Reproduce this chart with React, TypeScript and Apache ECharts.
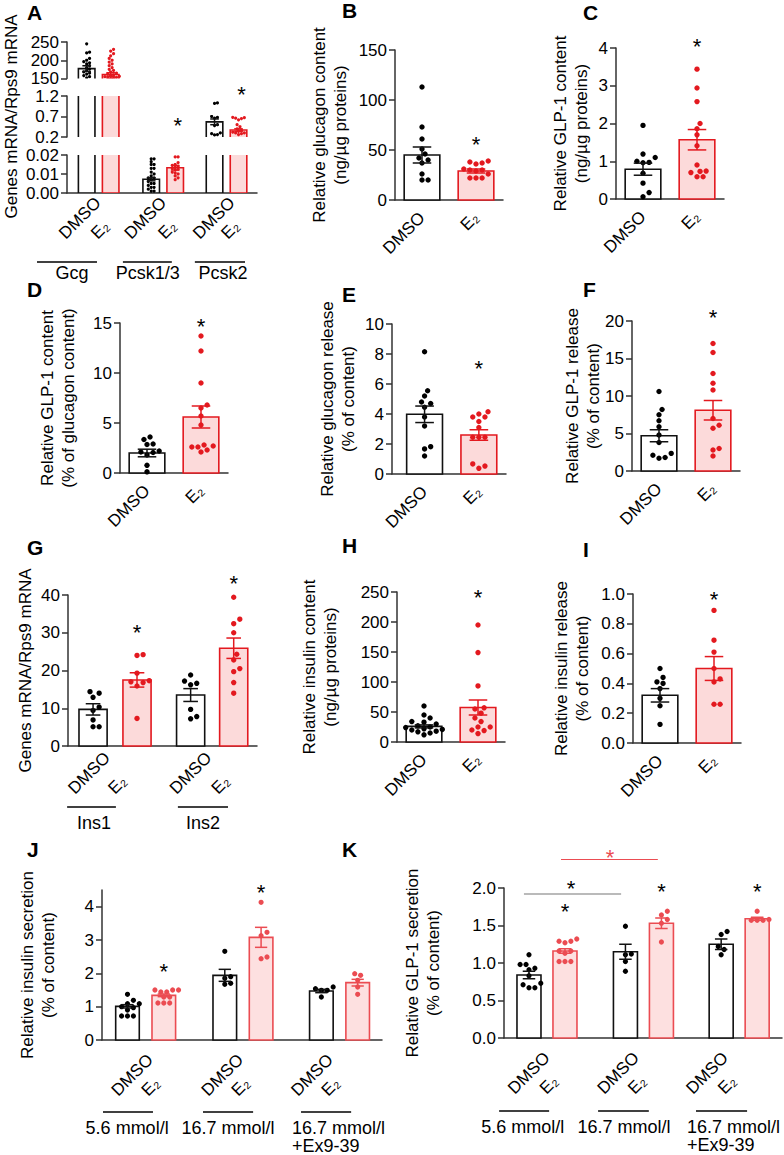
import React, { useEffect, useRef } from "react";
import * as echarts from "echarts";

const FONT = "'Liberation Sans', Arial, Helvetica, sans-serif";
const INK = "#111111";
const AXIS = "#333333";
const RED = "#e3191f";
const PINK = "#fcdada";
const CORAL = "#eb4c52";
const BLUSH = "#fde0e0";

const treatments = ["DMSO", "E₂"];

// ---------- Panel A ----------
const aGenes = ["Gcg", "Pcsk1/3", "Pcsk2"];
const aMeans = [177, 161, 0.0072, 0.0133, 0.57, 0.37];
const aSem = [8, 5, 0.0008, 0.0012, 0.07, 0.03];
const aGcgDmso = [245, 222, 220, 205, 200, 196, 193, 190, 185, 180, 176, 172, 168, 165, 162, 158, 155, 152];
const aGcgE2 = [230, 225, 218, 212, 205, 200, 195, 190, 185, 180, 175, 172, 168, 165, 162, 160, 158, 156, 155, 153, 152, 151, 150];
const aPcsk13Dmso = [0.018, 0.018, 0.0165, 0.015, 0.015, 0.013, 0.013, 0.011, 0.01, 0.009, 0.008, 0.008, 0.007, 0.006, 0.005, 0.005, 0.004, 0.003, 0.003, 0.002, 0.001, 0.001];
const aPcsk13E2 = [0.019, 0.019, 0.016, 0.015, 0.0145, 0.014, 0.0135, 0.013, 0.0125, 0.012, 0.011, 0.0105, 0.01, 0.009, 0.008, 0.007];
const aPcsk2Dmso = [1.03, 1.02, 0.7, 0.68, 0.66, 0.5, 0.48, 0.3, 0.28, 0.26, 0.25];
const aPcsk2E2 = [0.68, 0.67, 0.66, 0.65, 0.62, 0.5, 0.45, 0.4, 0.36, 0.34, 0.32, 0.3, 0.3, 0.28, 0.26];
const aStars = [[3.8, 0.6], [6.45, 1.37]];

// ---------- Panel B ----------
const bMeans = [45, 29];
const bSem = [8, 2];
const bDmso = [113, 73, 61, 51, 46, 42, 40, 37, 26, 20, 20];
const bE2 = [39, 38, 37, 36, 31, 30, 30, 29, 26, 22, 22, 22];
const bStar = 61;

// ---------- Panel C ----------
const cMeans = [0.79, 1.57];
const cSem = [0.16, 0.27];
const cDmso = [1.95, 1.19, 1.1, 1.0, 0.97, 0.96, 0.68, 0.42, 0.17, 0.06];
const cE2 = [3.44, 2.94, 2.58, 2.0, 1.86, 1.7, 1.41, 0.9, 0.74, 0.73, 0.7, 0.59, 0.59];
const cStar = 4.16;

// ---------- Panel D ----------
const dMeans = [2.0, 5.6];
const dSem = [0.38, 1.1];
const dDmso = [3.6, 3.35, 2.9, 2.85, 2.2, 2.1, 2.05, 1.8, 0.77, 0.12];
const dE2 = [13.7, 12.2, 9.0, 6.8, 6.5, 5.7, 4.8, 2.8, 2.7, 2.6, 2.6, 2.3, 2.1];
const dStar = 15.2;

// ---------- Panel E ----------
const eMeans = [3.98, 2.6];
const eSem = [0.55, 0.35];
const eDmso = [8.15, 5.55, 5.2, 4.8, 4.7, 4.45, 3.8, 3.2, 1.82, 1.67, 1.2];
const eE2 = [4.15, 4.0, 3.8, 3.8, 3.5, 3.1, 2.45, 2.45, 2.45, 0.67, 0.53, 0.38];
const eStar = 7.4;

// ---------- Panel F ----------
const fMeans = [4.7, 8.1];
const fSem = [0.8, 1.3];
const fDmso = [10.6, 8.2, 7.5, 6.7, 5.9, 4.8, 3.8, 2.35, 2.1, 1.8, 1.7];
const fE2 = [17.0, 15.8, 13.0, 11.7, 10.8, 7.0, 6.1, 5.7, 3.0, 2.8, 2.0];
const fStar = 21.2;

// ---------- Panel G ----------
const gGenes = ["Ins1", "Ins2"];
const gMeans = [9.7, 17.5, 13.5, 25.9];
const gSem = [1.5, 1.9, 1.7, 2.7];
const gIns1Dmso = [14.4, 14.0, 12.9, 10.3, 9.4, 6.9, 5.1, 5.1];
const gIns1E2 = [24.2, 24.0, 19.3, 17.3, 17.0, 16.8, 15.9, 7.3];
const gIns2Dmso = [18.8, 17.2, 16.6, 16.2, 9.7, 7.8, 7.2];
const gIns2E2 = [39.4, 33.6, 32.4, 30.0, 24.3, 22.8, 20.5, 19.7, 16.8, 14.0];
const gStars = [[1, 31.5], [3.2, 44.4]];

// ---------- Panel H ----------
const hMeans = [26, 57.5];
const hSem = [2.5, 12.5];
const hDmso = [60, 45, 40, 34, 33, 30, 27, 25, 24, 22, 21, 20, 18, 17, 15, 12];
const hE2 = [195, 149, 93.5, 57, 55, 48, 40, 34, 25, 25, 20, 19, 14];
const hStar = 249;

// ---------- Panel I ----------
const iMeans = [0.32, 0.5];
const iSem = [0.045, 0.08];
const iDmso = [0.5, 0.44, 0.41, 0.4, 0.365, 0.3, 0.25, 0.125];
const iE2 = [0.89, 0.69, 0.61, 0.5, 0.43, 0.41, 0.26, 0.26];
const iStar = 1.0;

// ---------- Panels J & K ----------
const glucose = ["5.6 mmol/l", "16.7 mmol/l", "16.7 mmol/l\n+Ex9-39"];
const jMeans = [1.01, 1.34, 1.94, 3.08, 1.47, 1.72];
const jSem = [0.05, 0.04, 0.18, 0.3, 0.05, 0.1];
const j56Dmso = [1.37, 1.19, 1.09, 1.09, 1.0, 0.97, 0.9, 0.72, 0.72, 0.72];
const j56E2 = [1.5, 1.5, 1.5, 1.44, 1.44, 1.29, 1.29, 1.11, 1.11, 1.11];
const j167Dmso = [2.66, 1.9, 1.85, 1.7, 1.67];
const j167E2 = [4.13, 3.23, 3.13, 2.49, 2.44];
const jExDmso = [1.59, 1.54, 1.49, 1.49, 1.29];
const jExE2 = [1.99, 1.94, 1.79, 1.59, 1.37];
const jStars = [[1, 2.2], [3.68, 4.58]];

const kMeans = [0.84, 1.16, 1.15, 1.53, 1.25, 1.59];
const kSem = [0.05, 0.03, 0.1, 0.07, 0.07, 0.02];
const k56Dmso = [1.11, 0.98, 0.98, 0.93, 0.91, 0.83, 0.73, 0.71, 0.67, 0.67];
const k56E2 = [1.32, 1.29, 1.29, 1.27, 1.16, 1.16, 1.13, 1.02, 1.02, 1.02];
const k167Dmso = [1.49, 1.12, 1.11, 1.02, 0.89];
const k167E2 = [1.69, 1.64, 1.58, 1.53, 1.28];
const kExDmso = [1.42, 1.38, 1.22, 1.18, 1.11];
const kExE2 = [1.69, 1.57, 1.57, 1.58, 1.57];
const kStars = [[1, 1.755], [3.68, 2.02], [6.34, 2.02], [1.17, 2.06], [2.25, 2.47, 1]];
const kBrackets = [[-0.14, 2.56, 1.92, 0], [0.89, 3.58, 2.38, 1]];

// ---------- layout ----------
type GridCfg = {
  left: number; top: number; width: number; height: number;
  min: number; max: number; ticks: number[]; dec: number; bottom: boolean;
  name?: string; nameGap?: number;
};
type GroupCfg = { lines: number[][]; lx: number[]; texts: string[]; aligns: string[]; lineDy: number; labelDy: number };
type PanelCfg = {
  letter: string; lx: number; ly: number;
  grids: GridCfg[];
  xMin: number; xMax: number; barX: number[]; barW: number;
  means: number[]; sems: number[]; points: number[][];
  red: string; pink: string; dotR: number; dotGap: number;
  labelPos: number[]; labelText: string[]; labelAlign: string; labelMargin: number; customLabels?: boolean;
  stars: number[][]; starGrid: number; clip: boolean;
  groups?: GroupCfg; brackets?: number[][];
};

function twoBar(o: any): PanelCfg {
  return {
    letter: o.letter, lx: o.lx, ly: o.ly,
    grids: [{ left: o.left, top: o.top, width: o.width, height: o.height, min: 0, max: o.max, ticks: o.ticks, dec: o.dec || 0, bottom: true, name: o.name, nameGap: o.nameGap }],
    xMin: o.xMin ?? -0.5, xMax: 1.5, barX: [0, 1], barW: 0.66,
    means: o.means, sems: o.sems, points: [o.dmso, o.e2],
    red: RED, pink: PINK, dotR: 2.7, dotGap: 6.1,
    labelPos: [0, 1], labelText: treatments, labelAlign: "right", labelMargin: 15,
    stars: [[1, o.star]], starGrid: 0, clip: false,
  };
}

const panels: PanelCfg[] = [
  {
    letter: "A", lx: 27, ly: 5,
    grids: [
      { left: 67, top: 42, width: 190, height: 36.5, min: 150, max: 250, ticks: [150, 200, 250], dec: 0, bottom: false },
      { left: 67, top: 96, width: 190, height: 41, min: 0.2, max: 1.2, ticks: [0.2, 0.7, 1.2], dec: 1, bottom: false, name: "Genes mRNA/Rps9 mRNA", nameGap: 45.5 },
      { left: 67, top: 155, width: 190, height: 38, min: 0, max: 0.02, ticks: [0, 0.01, 0.02], dec: 2, bottom: true },
    ],
    xMin: -0.82, xMax: 7.1, barX: [0, 1, 2.69, 3.69, 5.33, 6.33], barW: 0.69,
    means: aMeans, sems: aSem, points: [aGcgDmso, aGcgE2, aPcsk13Dmso, aPcsk13E2, aPcsk2Dmso, aPcsk2E2],
    red: RED, pink: PINK, dotR: 1.6, dotGap: 2.9,
    labelPos: [-1.03, 0.3, 1.7, 3.1, 4.55, 5.73], labelText: [...treatments, ...treatments, ...treatments], labelAlign: "left", labelMargin: 43, customLabels: true,
    stars: aStars, starGrid: 1, clip: true,
    groups: { lines: [[-2.07, 0.43], [1.51, 3.55], [4.51, 6.6]], lx: [-0.61, 2.55, 5.68], texts: aGenes, aligns: ["center", "center", "center"], lineDy: 69, labelDy: 80 },
  },
  twoBar({ letter: "B", lx: 342, ly: 3, left: 395, top: 50, width: 108, height: 150, max: 150, ticks: [0, 50, 100, 150], name: "Relative glucagon content\n(ng/µg proteins)", nameGap: 44.5, means: bMeans, sems: bSem, dmso: bDmso, e2: bE2, star: bStar }),
  twoBar({ letter: "C", lx: 583, ly: 5, left: 616, top: 48, width: 108, height: 151, max: 4, ticks: [0, 1, 2, 3, 4], name: "Relative GLP-1 content\n(ng/µg proteins)", nameGap: 24.5, means: cMeans, sems: cSem, dmso: cDmso, e2: cE2, star: cStar }),
  twoBar({ letter: "D", lx: 27, ly: 282, left: 120, top: 323, width: 108, height: 150, max: 15, ticks: [0, 5, 10, 15], name: "Relative GLP-1 content\n(% of glucagon content)", nameGap: 41, means: dMeans, sems: dSem, dmso: dDmso, e2: dE2, star: dStar }),
  twoBar({ letter: "E", lx: 342, ly: 287, left: 392, top: 324, width: 114, height: 150, max: 10, ticks: [0, 2, 4, 6, 8, 10], name: "Relative glucagon release\n(% of content)", nameGap: 33, xMin: -0.6, means: eMeans, sems: eSem, dmso: eDmso, e2: eE2, star: eStar }),
  twoBar({ letter: "F", lx: 583, ly: 282, left: 632, top: 321, width: 108, height: 150, max: 20, ticks: [0, 5, 10, 15, 20], name: "Relative GLP-1 release\n(% of content)", nameGap: 28, means: fMeans, sems: fSem, dmso: fDmso, e2: fE2, star: fStar }),
  {
    letter: "G", lx: 27, ly: 540,
    grids: [{ left: 68, top: 595, width: 189, height: 151, min: 0, max: 40, ticks: [0, 10, 20, 30, 40], dec: 0, bottom: true, name: "Genes mRNA/Rps9 mRNA", nameGap: 32.5 }],
    xMin: -0.57, xMax: 3.73, barX: [0, 1, 2.22, 3.2], barW: 0.64,
    means: gMeans, sems: gSem, points: [gIns1Dmso, gIns1E2, gIns2Dmso, gIns2E2],
    red: RED, pink: PINK, dotR: 2.7, dotGap: 6.1,
    labelPos: [-0.5, 0.41, 1.81, 2.76], labelText: [...treatments, ...treatments], labelAlign: "left", labelMargin: 45,
    stars: gStars, starGrid: 0, clip: false,
    groups: { lines: [[-0.59, 0.52], [1.93, 3.07]], lx: [0.02, 2.5], texts: gGenes, aligns: ["center", "center"], lineDy: 61, labelDy: 77 },
  },
  twoBar({ letter: "H", lx: 342, ly: 538, left: 397, top: 592, width: 108, height: 150, max: 250, ticks: [0, 50, 100, 150, 200, 250], name: "Relative insulin content\n(ng/µg proteins)", nameGap: 56.5, means: hMeans, sems: hSem, dmso: hDmso, e2: hE2, star: hStar }),
  twoBar({ letter: "I", lx: 583, ly: 542, left: 633, top: 594, width: 108, height: 149, max: 1, ticks: [0, 0.2, 0.4, 0.6, 0.8, 1.0], dec: 1, name: "Relative insulin release\n(% of content)", nameGap: 40.5, means: iMeans, sems: iSem, dmso: iDmso, e2: iE2, star: iStar }),
  {
    letter: "J", lx: 27, ly: 842,
    grids: [{ left: 102, top: 890, width: 280, height: 150, min: 0, max: 4.5, ticks: [0, 1, 2, 3, 4], dec: 0, bottom: true, name: "Relative insulin secretion\n(% of content)", nameGap: 43 }],
    xMin: -0.702, xMax: 7.01, barX: [0, 1, 2.68, 3.68, 5.34, 6.34], barW: 0.65,
    means: jMeans, sems: jSem, points: [j56Dmso, j56E2, j167Dmso, j167E2, jExDmso, jExE2],
    red: CORAL, pink: BLUSH, dotR: 2.6, dotGap: 5.9,
    labelPos: [-0.364, 0.463, 2.116, 2.942, 4.59, 5.42], labelText: [...treatments, ...treatments, ...treatments], labelAlign: "left", labelMargin: 53,
    stars: jStars, starGrid: 0, clip: false,
    groups: { lines: [[-0.675, 0.702], [2.08, 3.46], [4.78, 6.16]], lx: [-0.01, 2.77, 4.53], texts: glucose, aligns: ["center", "center", "left"], lineDy: 72, labelDy: 88 },
  },
  {
    letter: "K", lx: 342, ly: 842,
    grids: [{ left: 504, top: 888, width: 278, height: 150, min: 0, max: 2, ticks: [0, 0.5, 1, 1.5, 2], dec: 1, bottom: true, name: "Relative GLP-1 secretion\n(% of content)", nameGap: 60 }],
    xMin: -0.694, xMax: 7.03, barX: [0, 1, 2.68, 3.68, 5.34, 6.34], barW: 0.667,
    means: kMeans, sems: kSem, points: [k56Dmso, k56E2, k167Dmso, k167E2, kExDmso, kExE2],
    red: CORAL, pink: BLUSH, dotR: 2.6, dotGap: 5.9,
    labelPos: [-0.5, 0.378, 1.98, 2.83, 4.45, 5.33], labelText: [...treatments, ...treatments, ...treatments], labelAlign: "left", labelMargin: 53,
    stars: kStars, starGrid: 0, clip: false,
    groups: { lines: [[-0.83, 0.56], [1.92, 3.33], [4.64, 6.06]], lx: [-0.17, 2.64, 4.39], texts: glucose, aligns: ["center", "center", "left"], lineDy: 73, labelDy: 89 },
    brackets: kBrackets,
  },
];

// ---------- helpers ----------
function swarm(ys: number[], d: number): number[] {
  const order = ys.map((_, i) => i).sort((a, b) => ys[b] - ys[a] || a - b);
  const placed: number[][] = [];
  const xs = new Array(ys.length).fill(0);
  for (const i of order) {
    const y = ys[i];
    for (let k = 0; k < 80; k++) {
      const step = Math.ceil(k / 2) * d * 0.5 * (k % 2 === 1 ? 1 : -1);
      let ok = true;
      for (const q of placed) {
        if ((q[0] - step) ** 2 + (q[1] - y) ** 2 < d * d * 0.92) { ok = false; break; }
      }
      if (ok) { xs[i] = step; placed.push([step, y]); break; }
    }
  }
  return xs;
}

function buildOption() {
  const option: any = {
    animation: false,
    backgroundColor: "#ffffff",
    textStyle: { fontFamily: FONT },
    grid: [], xAxis: [], yAxis: [], series: [], graphic: [],
  };
  panels.forEach((p) => {
    const offsets: number[] = [];
    let acc = 0;
    p.points.forEach((arr) => { offsets.push(acc); acc += arr.length; });
    const bottomGrid = p.grids.find((g) => g.bottom)!;

    option.graphic.push({
      type: "text", x: p.lx, y: p.ly - 3,
      style: { text: p.letter, fontSize: 21, fontWeight: "bold", fontFamily: FONT, fill: "#000", verticalAlign: "top", align: "left" },
    });

    p.grids.forEach((g, gi) => {
      const idx = option.grid.length;
      option.grid.push({ left: g.left, top: g.top, width: g.width, height: g.height, containLabel: false, outerBoundsMode: "none" });
      const axisLabelsHere = g.bottom && !p.customLabels;
      option.xAxis.push({
        type: "value", gridIndex: idx, min: p.xMin, max: p.xMax,
        splitLine: { show: false },
        axisTick: { show: false },
        axisLine: { show: g.bottom, onZero: false, lineStyle: { color: AXIS, width: 1.5 } },
        axisLabel: axisLabelsHere ? {
          show: true,
          customValues: p.labelPos,
          formatter: (v: number) => {
            const i = p.labelPos.findIndex((q) => Math.abs(q - v) < 1e-6);
            return i >= 0 ? p.labelText[i] : "";
          },
          rotate: 45, margin: p.labelMargin, align: p.labelAlign, verticalAlign: "middle",
          fontSize: 17, fontFamily: FONT, color: "#000", hideOverlap: false,
        } : { show: false },
      });
      option.yAxis.push({
        type: "value", gridIndex: idx, min: g.min, max: g.max,
        splitLine: { show: false },
        axisLine: { show: true, onZero: false, lineStyle: { color: AXIS, width: 1.5 } },
        axisTick: { show: true, length: 6, customValues: g.ticks, lineStyle: { color: AXIS, width: 1.5 } },
        axisLabel: {
          customValues: g.ticks, formatter: (v: number) => v.toFixed(g.dec),
          fontSize: 17, lineHeight: 15, fontFamily: FONT, color: "#000", margin: 8,
        },
        name: g.name || "", nameLocation: "middle", nameGap: g.nameGap || 30, nameMoveOverlap: false,
        nameTextStyle: { fontSize: 17, fontFamily: FONT, color: "#000", lineHeight: 21 },
      });
      const axes = { xAxisIndex: idx, yAxisIndex: idx };
      const barData = p.barX.map((x, i) => [x, p.means[i], p.sems[i]]);

      // bars
      option.series.push({
        type: "custom", ...axes, clip: p.clip, data: barData,
        renderItem: (params: any, api: any) => {
          const i = params.dataIndex;
          const x = api.value(0), m = api.value(1);
          const isE = i % 2 === 1;
          const tl = api.coord([x - p.barW / 2, m]);
          const br = api.coord([x + p.barW / 2, 0]);
          return {
            type: "rect",
            shape: { x: tl[0], y: tl[1], width: br[0] - tl[0], height: br[1] - tl[1] },
            style: { fill: isE ? p.pink : "#ffffff", stroke: isE ? p.red : INK, lineWidth: 1.6 },
          };
        },
      });

      // dots
      const dotData: number[][] = [];
      p.points.forEach((arr, bi) => arr.forEach((v) => dotData.push([bi, v])));
      option.series.push({
        type: "custom", ...axes, clip: p.clip, data: dotData,
        renderItem: (params: any, api: any) => {
          const bi = api.value(0), v = api.value(1);
          const k = params.dataIndex - offsets[bi];
          const ys = p.points[bi].map((val) => api.coord([p.barX[bi], val])[1]);
          const xs = swarm(ys, p.dotGap);
          const c = api.coord([p.barX[bi], v]);
          return {
            type: "circle",
            shape: { cx: c[0] + xs[k], cy: c[1], r: p.dotR },
            style: { fill: bi % 2 === 1 ? p.red : "#000" },
          };
        },
      });

      // error bars
      option.series.push({
        type: "custom", ...axes, clip: p.clip, data: barData,
        renderItem: (params: any, api: any) => {
          const i = params.dataIndex;
          const x = api.value(0), m = api.value(1), s = api.value(2);
          const stroke = i % 2 === 1 ? p.red : INK;
          const hi = api.coord([x, m + s]);
          const lo = api.coord([x, m - s]);
          const l = api.coord([x - p.barW / 2, m]);
          const r = api.coord([x + p.barW / 2, m]);
          const cap = (r[0] - l[0]) * 0.26;
          const st = { stroke, lineWidth: 1.5 };
          return {
            type: "group",
            children: [
              { type: "line", shape: { x1: hi[0], y1: hi[1], x2: lo[0], y2: lo[1] }, style: st },
              { type: "line", shape: { x1: hi[0] - cap, y1: hi[1], x2: hi[0] + cap, y2: hi[1] }, style: st },
              { type: "line", shape: { x1: lo[0] - cap, y1: lo[1], x2: lo[0] + cap, y2: lo[1] }, style: st },
            ],
          };
        },
      });

      if (gi === p.starGrid) {
        if (p.brackets) {
          option.series.push({
            type: "custom", ...axes, clip: false, data: p.brackets,
            renderItem: (params: any, api: any) => {
              const a = api.coord([api.value(0), api.value(2)]);
              const b = api.coord([api.value(1), api.value(2)]);
              return {
                type: "line", shape: { x1: a[0], y1: a[1], x2: b[0], y2: b[1] },
                style: { stroke: api.value(3) === 1 ? p.red : "#777777", lineWidth: 1.2 },
              };
            },
          });
        }
        option.series.push({
          type: "custom", ...axes, clip: false, data: p.stars.map((s) => [s[0], s[1], s[2] || 0]),
          renderItem: (params: any, api: any) => {
            const c = api.coord([api.value(0), api.value(1)]);
            return {
              type: "text", x: c[0], y: c[1] + 5,
              style: { text: "*", fontSize: 22, fontFamily: FONT, fill: api.value(2) === 1 ? p.red : "#000", align: "center", verticalAlign: "middle" },
            };
          },
        });
      }

      if (g.bottom && p.customLabels) {
        option.series.push({
          type: "custom", ...axes, clip: false, data: p.labelPos.map((x, i) => [x, i]),
          renderItem: (params: any, api: any) => {
            const i = params.dataIndex;
            const c = api.coord([api.value(0), g.min]);
            return {
              type: "text", x: c[0], y: c[1] + p.labelMargin, rotation: Math.PI / 4,
              style: { text: p.labelText[i], fontSize: 17, fontFamily: FONT, fill: "#000", align: p.labelAlign, verticalAlign: "middle" },
            };
          },
        });
      }

      if (g.bottom && p.groups) {
        const G = p.groups;
        option.series.push({
          type: "custom", ...axes, clip: false, data: G.texts.map((_, i) => [i, 0]),
          renderItem: (params: any, api: any) => {
            const i = params.dataIndex;
            const a = api.coord([G.lines[i][0], bottomGrid.min]);
            const b = api.coord([G.lines[i][1], bottomGrid.min]);
            const t = api.coord([G.lx[i], bottomGrid.min]);
            const base = a[1];
            return {
              type: "group",
              children: [
                { type: "line", shape: { x1: a[0], y1: base + G.lineDy, x2: b[0], y2: base + G.lineDy }, style: { stroke: "#000", lineWidth: 1.5 } },
                { type: "text", x: t[0], y: base + G.labelDy - 9, style: { text: G.texts[i], fontSize: 18, fontFamily: FONT, fill: "#000", align: G.aligns[i], verticalAlign: "top", lineHeight: 18 } },
              ],
            };
          },
        });
      }
    });
  });
  return option;
}

export default function App() {
  const ref = useRef<HTMLDivElement>(null);
  useEffect(() => {
    if (!ref.current) return;
    const chart = echarts.init(ref.current, undefined, { renderer: "svg" });
    chart.setOption(buildOption());
    return () => chart.dispose();
  }, []);
  return (
    <div
      ref={ref}
      style={{ position: "absolute", left: 0, top: 0, width: 784, height: 1155, background: "#fff" }}
    />
  );
}
